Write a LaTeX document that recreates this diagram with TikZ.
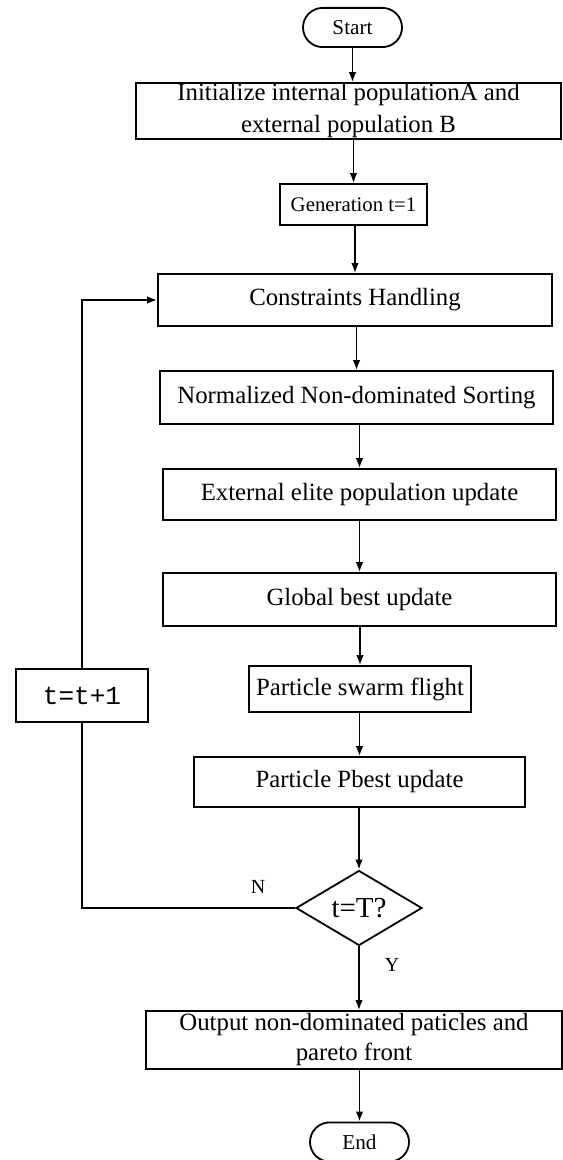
\documentclass[tikz,border=0pt]{standalone}
\usepackage{fontspec}
\setmainfont{Liberation Serif}
\setmonofont{Liberation Mono}
\usetikzlibrary{arrows.meta,shapes.geometric,calc}
\tikzset{
  box/.style={draw, line width=0.9pt, rectangle, inner sep=0pt, align=center,
    font=\fontsize{12.4}{16}\selectfont},
  pill/.style={draw, line width=0.9pt, rectangle, rounded corners=9.8pt, inner sep=0pt,
    minimum width=49.5pt, minimum height=19.6pt, font=\fontsize{10.6}{12}\selectfont},
  dec/.style={draw, line width=0.9pt, diamond, inner sep=0pt, aspect=1.68,
    minimum width=63pt, minimum height=37.5pt, font=\fontsize{14.5}{16}\selectfont},
  lbl/.style={inner sep=0pt, font=\fontsize{10}{12}\selectfont},
  arr/.style={line width=0.9pt, -{Latex[length=5pt,width=3.8pt]}},
  ln/.style={line width=0.9pt}
}
\begin{document}
\begin{tikzpicture}[x=0.5pt,y=-0.5pt]
\useasboundingbox (0,0) rectangle (562,1160);
\node[pill] (start) at (352.5,27.5) {Start};
\node[box, minimum width=212.5pt, minimum height=28pt] (init) at (348.5,111)
  {Initialize internal populationA and\\external population B};
\node[box, minimum width=73.5pt, minimum height=20.5pt, font=\fontsize{10.4}{12}\selectfont] (gen) at (353.5,204.5) {Generation t=1};
\node[box, minimum width=197pt, minimum height=26pt] (cons) at (355,300) {Constraints Handling};
\node[box, minimum width=196.5pt, minimum height=26.5pt] (norm) at (356.5,397.5) {Normalized Non-dominated Sorting};
\node[box, minimum width=196.5pt, minimum height=25.5pt] (ext) at (359.5,494.5) {External elite population update};
\node[box, minimum width=196.5pt, minimum height=26.5pt] (glob) at (359.5,599.5) {Global best update};
\node[box, minimum width=111pt, minimum height=23pt] (swarm) at (360,689) {Particle swarm flight};
\node[box, minimum width=165.5pt, minimum height=25pt] (pbest) at (359.5,782) {Particle Pbest update};
\node[dec] (dia) at (359,908) {t=T?};
\node[box, minimum width=208pt, minimum height=29pt, font=\fontsize{12.4}{15}\selectfont] (out) at (354,1040)
  {Output non-dominated paticles and\\pareto front};
\node[pill] (end) at (359.5,1142) {End};
\node[box, minimum width=66pt, minimum height=26.5pt, font=\fontsize{13}{15}\ttfamily] (tt) at (82,695.5) {t=t+1};
\node[lbl] (nl) at (258,887) {N};
\node[lbl] (yl) at (392,965) {Y};
\draw[arr] (start.south) -- (start.south |- init.north);
\draw[arr] (gen.north |- init.south) -- (gen.north);
\draw[arr] (cons.north |- gen.south) -- (cons.north);
\draw[arr] (norm.north |- cons.south) -- (norm.north);
\draw[arr] (ext.north |- norm.south) -- (ext.north);
\draw[arr] (glob.south |- ext.south) -- (glob.north);
\draw[arr] (swarm.north |- glob.south) -- (swarm.north);
\draw[arr] (pbest.north |- swarm.south) -- (pbest.north);
\draw[arr] (dia.north |- pbest.south) -- (dia.north);
\draw[arr] (dia.south) -- (dia.south |- out.north);
\draw[arr] (end.north |- out.south) -- (end.north);
\draw[ln] (dia.west) -| (tt.south);
\draw[arr] (tt.north) |- (cons.west);
\end{tikzpicture}
\end{document}
